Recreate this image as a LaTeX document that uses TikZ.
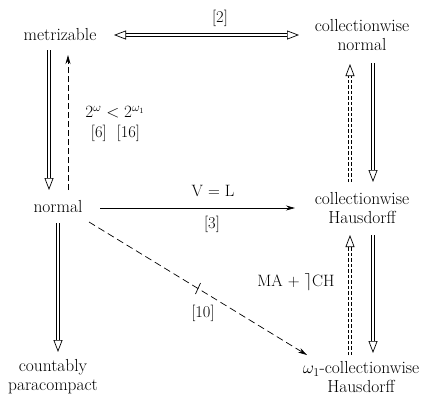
\documentclass[tikz,border=0pt]{standalone}
\usetikzlibrary{arrows.meta}
\begin{document}
\begin{tikzpicture}[x=1bp,y=-1bp,
  every node/.style={font=\fontsize{17.5}{20}\selectfont, inner sep=0pt},
  lbl/.style={font=\fontsize{16.5}{20}\selectfont},
  dbl/.style={double, double distance=2.2bp, line width=0.7bp,
    -{Triangle[open, length=12bp, width=9bp, line width=0.7bp]}},
  dbldash/.style={dbl, dash pattern=on 3.5bp off 2bp},
  sgl/.style={line width=0.7bp, -{Stealth[length=9bp, width=5bp]}},
  dsh/.style={line width=0.7bp, dash pattern=on 7bp off 4bp, -{Stealth[length=9bp, width=5bp]}}]
\useasboundingbox (0,0) rectangle (432,396);
% nodes
\node (met) at (60,35) {metrizable};
\node[align=center] (cwn) at (362,35) {collectionwise\\normal};
\node (nor) at (58,207) {normal};
\node[align=center] (cwh) at (362,208) {collectionwise\\Hausdorff};
\node[align=center, font=\fontsize{17.5}{19}\selectfont] (cp) at (53,377) {countably\\paracompact};
\node[align=center, font=\fontsize{17.5}{18.5}\selectfont] (w1) at (361,377) {$\omega_1$-collectionwise\\Hausdorff};
% labels
\node[lbl] (l2) at (220,18) {[2]};
\node[lbl] (lc) at (115,112) {$2^{\omega} < 2^{\omega_1}$};
\node[lbl] (l616) at (115.5,133) {[6]\ \ [16]};
\node[lbl] (lv) at (213,191) {V = L};
\node[lbl] (l3) at (212,224) {[3]};
\node[lbl] (lma) at (296,282) {MA + $\rceil$CH};
\node[lbl] (l10) at (203,313) {[10]};
% connectors
\draw[dbl, {Triangle[open, length=12bp, width=9bp, line width=0.7bp]}-{Triangle[open, length=12bp, width=9bp, line width=0.7bp]}]
  ([shift={(54,0)}]met.center) -- ([shift={(-63,0)}]cwn.center);
\draw[dbl] ([shift={(-11,15)}]met.center) -- ([shift={(-9,-17)}]nor.center);
\draw[dsh, dash pattern=on 6bp off 3bp] ([shift={(10,-17)}]nor.center) -- ([shift={(8,20)}]met.center);
\draw[sgl] ([shift={(42,1)}]nor.center) -- ([shift={(-67,0)}]cwh.center);
\draw[dsh] ([shift={(31,15)}]nor.center) -- coordinate[pos=0.5] (tk) ([shift={(-54,-22)}]w1.center);
\draw[line width=0.7bp] ([shift={(-2.5,5.5)}]tk) -- ([shift={(2.5,-5.5)}]tk);
\draw[dbl] ([shift={(0,16)}]nor.center) -- ([shift={(5,-25)}]cp.center);
\draw[dbl] ([shift={(11,28)}]cwn.center) -- ([shift={(11,-26)}]cwh.center);
\draw[dbldash] ([shift={(-12,-26)}]cwh.center) -- ([shift={(-12,29)}]cwn.center);
\draw[dbl] ([shift={(11,27)}]cwh.center) -- ([shift={(12,-24)}]w1.center);
\draw[dbldash] ([shift={(-11,-22)}]w1.center) -- ([shift={(-12,27)}]cwh.center);
\end{tikzpicture}
\end{document}
